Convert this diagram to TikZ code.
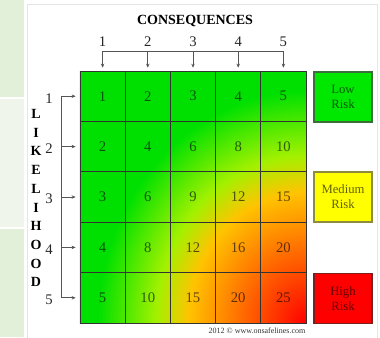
\documentclass[tikz,border=0pt]{standalone}
\usepackage{fontspec}
\setmainfont{Liberation Serif}
\usetikzlibrary{arrows.meta}
\pgfdeclarefunctionalshading{riskmap}{\pgfpointorigin}{\pgfpoint{100bp}{100bp}}{}{
25 sub 50 div dup mul exch 75 sub 50 div dup mul add sqrt
dup -2.5 mul 2.3 add dup abs add 2 div dup 1 sub abs neg 1 add add 2 div
exch 1.5 mul dup 1 sub abs neg 1 add add 2 div
1 index 0.1 mul 0.88 add mul 0
}
\definecolor{panelA}{HTML}{E2EFD9}
\definecolor{panelB}{HTML}{EFF5EA}
\definecolor{lowfill}{HTML}{00E800}
\definecolor{lowline}{HTML}{3C6E3C}
\definecolor{medfill}{HTML}{FFFF00}
\definecolor{medline}{HTML}{8C8C3C}
\definecolor{highfill}{HTML}{FF0000}
\definecolor{highline}{HTML}{7A2020}
\definecolor{axisline}{HTML}{555555}
\tikzset{
  cellbox/.style={draw=black!80, line width=0.6pt, minimum width=33.9pt, minimum height=37.8pt,
    inner sep=0pt, text=black, text opacity=0.62, font=\fontsize{11}{12}\selectfont},
  legendbox/.style={line width=0.8pt, minimum width=43.5pt, minimum height=37.5pt, inner sep=0pt,
    align=center, text=black, text opacity=0.62, font=\fontsize{9.5}{11.3}\selectfont},
  axnum/.style={inner sep=0pt, text=black!85, font=\fontsize{11}{12}\selectfont},
  axletter/.style={inner sep=0pt, font=\bfseries\fontsize{10.5}{12}\selectfont},
  axline/.style={draw=axisline, line width=0.6pt},
  axarrow/.style={axline, -{Stealth[length=3pt,width=2.6pt]}}
}
\begin{document}
\begin{tikzpicture}[x=0.75pt,y=-0.75pt]
\useasboundingbox (0,0) rectangle (380,337);
\fill[white] (0,0) rectangle (380,337);
\fill[panelA] (0,0) rectangle (24,97);
\fill[panelB] (0,99) rectangle (24,227);
\fill[panelA] (0,229) rectangle (24,337);
\draw[black!10, fill=white] (27,4) rectangle (377,340);
% gradient field
\path[shading=riskmap] (80,71) rectangle (306,323);
% cells
\foreach \r in {1,...,5} {
  \foreach \c in {1,...,5} {
    \pgfmathsetmacro\xc{80+45.2*(\c-0.5)}
    \pgfmathsetmacro\yc{71+50.4*(\r-0.5)}
    \pgfmathtruncatemacro\v{\r*\c}
    \node[cellbox] (n\r\c) at (\xc,\yc) {\v};
  }
}
% title
\node[inner sep=0pt, font=\bfseries\fontsize{10.5}{12}\selectfont] (cons) at (195,21) {CONSEQUENCES};
% top axis
\foreach \c in {1,...,5} {
  \pgfmathsetmacro\xc{80+45.2*(\c-0.5)}
  \node[axnum] (t\c) at (\xc,42) {\c};
  \coordinate (b\c) at (\xc,51);
}
\draw[axline] (b1) -- (b5);
\foreach \c in {1,...,5} {
  \draw[axarrow] (b\c) -- ([yshift=2.2pt]n1\c.north);
}
% left axis
\foreach \r in {1,...,5} {
  \pgfmathsetmacro\yc{71+50.4*(\r-0.5)}
  \node[axnum] (s\r) at (49,\yc+2) {\r};
  \coordinate (l\r) at (61,\yc);
}
\draw[axline] (l1) -- (l5);
\foreach \r in {1,...,5} {
  \draw[axarrow] (l\r) -- ([xshift=-3pt]n\r1.west);
}
% LIKELIHOOD
\foreach \ch [count=\i from 0] in {L,I,K,E,L,I,H,O,O,D} {
  \node[axletter] (lk\i) at (36,114+18.7*\i) {\ch};
}
% legend
\node[legendbox, draw=lowline, fill=lowfill] (low) at (343,97) {Low\\Risk};
\node[legendbox, draw=medline, fill=medfill] (med) at (343,197) {Medium\\Risk};
\node[legendbox, draw=highline, fill=highfill] (high) at (343,298.5) {High\\Risk};
% credit
\node[inner sep=0pt, text=black!80, font=\fontsize{6}{7}\selectfont] (credit) at (257,331) {2012 © www.onsafelines.com};
\end{tikzpicture}
\end{document}
